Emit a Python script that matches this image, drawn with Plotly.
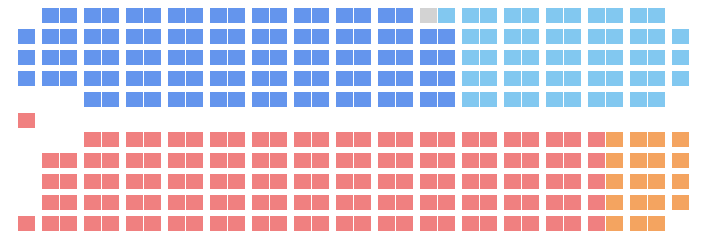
import plotly.graph_objects as go

# Parties, seat counts and colours (2004 House of Commons layout)
party_codes = ["C", "I", "B", "L", "N"]
party_names = ["Conservative", "Independent", "Bloc Québécois", "Liberal", "New Democratic"]
party_seats = [99, 1, 54, 135, 19]
party_colors = ["#6495ED", "#D3D3D3", "#82C8F0", "#F08080", "#F4A460"]

# Seating map: one string per row, one character per seat ('.' = no seat)
seat_rows = [
    "." + "C" * 18 + "I" + "B" * 11 + ".",
    "C" * 21 + "B" * 11,
    "C" * 21 + "B" * 11,
    "C" * 21 + "B" * 11,
    "..." + "C" * 18 + "B" * 10 + ".",
    "L" + "." * 31,
    "..." + "L" * 25 + "N" * 4,
    "." + "L" * 27 + "N" * 4,
    "." + "L" * 27 + "N" * 4,
    "." + "L" * 27 + "N" * 4,
    "L" * 28 + "NNN" + ".",
]

# layout geometry (pixels)
row_tops = [8, 29, 50, 71, 92, 113, 132, 153, 174, 195, 216]
cell_w, cell_h = 17, 15


def col_left(k, ncols=32):
    if k == 0:
        return 18
    if k == ncols - 1:
        return 672
    p, w = divmod(k - 1, 2)
    return 42 + 42 * p + 18 * w


fig = go.Figure()
for code, name, color, n in zip(party_codes, party_names, party_colors, party_seats):
    xs, bases = [], []
    for r, row in enumerate(seat_rows):
        for k, ch in enumerate(row):
            if ch == code:
                xs.append(col_left(k, len(row)) + cell_w / 2)
                bases.append(row_tops[r])
    assert len(xs) == n, (name, len(xs), n)
    fig.add_trace(go.Bar(
        x=xs, y=[cell_h] * len(xs), base=bases, width=cell_w,
        marker=dict(color=color, line=dict(width=0)),
        name=name, hovertemplate=name + "<extra></extra>",
    ))

fig.update_layout(
    width=705, height=246,
    margin=dict(l=0, r=0, t=0, b=0),
    paper_bgcolor="white", plot_bgcolor="white",
    showlegend=False, barmode="overlay",
    xaxis=dict(range=[0, 705], visible=False, fixedrange=True),
    yaxis=dict(range=[246, 0], visible=False, fixedrange=True),
)
fig.write_html("out.html")
